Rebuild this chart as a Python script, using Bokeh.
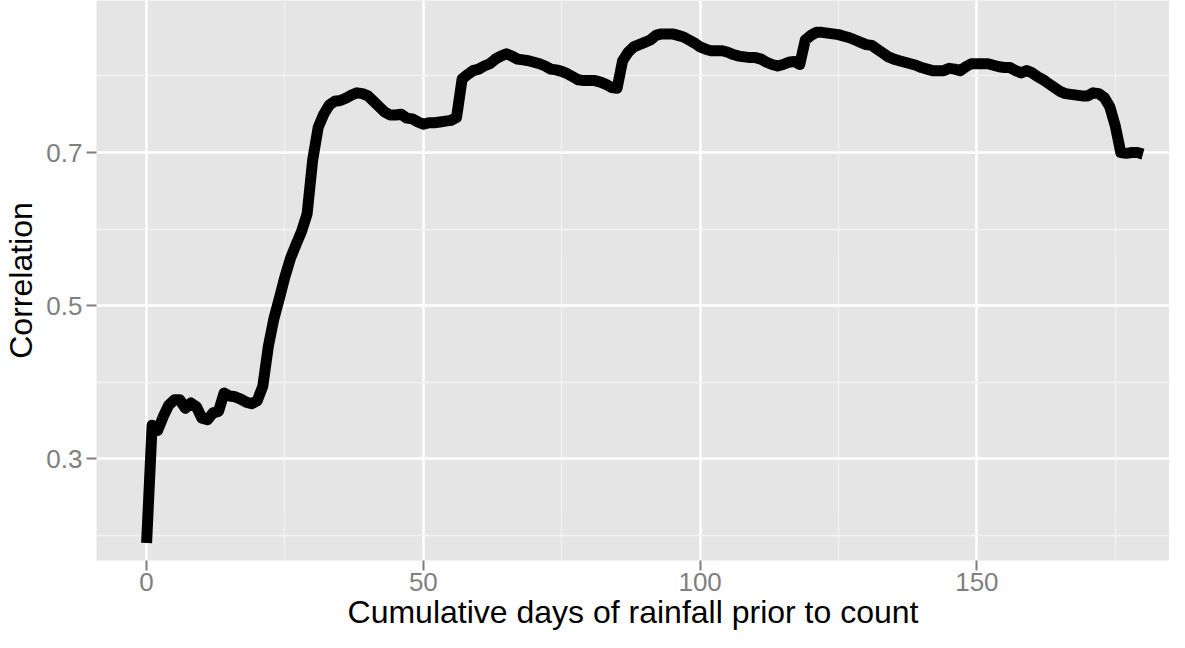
from bokeh.plotting import figure
from bokeh.models import Range1d, FixedTicker
from bokeh.embed import file_html
from bokeh.resources import INLINE

days = list(range(0, 181))
correlation = [
    0.190, 0.344, 0.337, 0.355, 0.370, 0.377, 0.377, 0.366, 0.373, 0.368,
    0.353, 0.351, 0.360, 0.362, 0.386, 0.382, 0.381, 0.378, 0.374, 0.372,
    0.376, 0.395, 0.447, 0.483, 0.510, 0.538, 0.562, 0.580, 0.597, 0.620,
    0.690, 0.733, 0.750, 0.762, 0.767, 0.768, 0.771, 0.775, 0.778, 0.777,
    0.774, 0.767, 0.760, 0.753, 0.749, 0.749, 0.750, 0.745, 0.744, 0.740,
    0.737, 0.739, 0.739, 0.740, 0.741, 0.742, 0.746, 0.796, 0.802, 0.807,
    0.809, 0.813, 0.816, 0.822, 0.826, 0.829, 0.826, 0.822, 0.821, 0.820,
    0.818, 0.816, 0.813, 0.809, 0.808, 0.806, 0.803, 0.799, 0.795, 0.794,
    0.794, 0.794, 0.792, 0.789, 0.785, 0.784, 0.820, 0.831, 0.838, 0.841,
    0.844, 0.847, 0.853, 0.855, 0.855, 0.855, 0.853, 0.851, 0.847, 0.843,
    0.838, 0.835, 0.833, 0.833, 0.833, 0.831, 0.828, 0.826, 0.825, 0.824,
    0.824, 0.822, 0.818, 0.815, 0.813, 0.815, 0.818, 0.819, 0.815, 0.847,
    0.853, 0.857, 0.857, 0.856, 0.855, 0.854, 0.852, 0.850, 0.847, 0.844,
    0.841, 0.840, 0.835, 0.830, 0.825, 0.822, 0.820, 0.818, 0.816, 0.814,
    0.811, 0.809, 0.807, 0.807, 0.807, 0.810, 0.809, 0.807, 0.812, 0.816,
    0.816, 0.816, 0.816, 0.814, 0.812, 0.811, 0.811, 0.807, 0.804, 0.807,
    0.804, 0.799, 0.795, 0.790, 0.785, 0.780, 0.777, 0.776, 0.775, 0.774,
    0.774, 0.778, 0.777, 0.772, 0.760, 0.735, 0.700, 0.699, 0.700, 0.700,
    0.698,
]

x_ticks = [0, 50, 100, 150]
x_minor = [25, 75, 125, 175]
y_ticks = [0.3, 0.5, 0.7]
y_minor = [0.2, 0.4, 0.6, 0.8]

FONT = "Liberation Sans"

p = figure(width=1169, height=632, output_backend="svg", toolbar_location=None,
           x_range=Range1d(-9.05, 184.8), y_range=Range1d(0.1672, 0.8986),
           x_axis_label="Cumulative days of rainfall prior to count",
           y_axis_label="Correlation")

p.background_fill_color = "#E5E5E5"
p.border_fill_color = "white"
p.outline_line_color = None
p.min_border_left = 90
p.min_border_right = 0
p.min_border_top = 0
p.min_border_bottom = 0

p.xaxis.ticker = FixedTicker(ticks=x_ticks, minor_ticks=x_minor)
p.yaxis.ticker = FixedTicker(ticks=y_ticks, minor_ticks=y_minor)
p.yaxis.major_label_overrides = {0.3: "0.3", 0.5: "0.5", 0.7: "0.7"}

for ax in (p.xaxis, p.yaxis):
    ax.axis_line_color = None
    ax.major_tick_line_color = "#7F7F7F"
    ax.major_tick_line_width = 2
    ax.major_tick_in = 0
    ax.major_tick_out = 10
    ax.minor_tick_line_color = None
    ax.major_label_text_font = FONT
    ax.major_label_text_font_size = "26px"
    ax.major_label_text_color = "#7F7F7F"
    ax.axis_label_text_font = FONT
    ax.axis_label_text_font_size = "32px"
    ax.axis_label_text_font_style = "normal"
    ax.axis_label_text_color = "black"

p.xaxis.major_label_standoff = 2
p.xaxis.axis_label_standoff = 0
p.yaxis.major_label_standoff = 4
p.yaxis.axis_label_standoff = 4

for g in (p.xgrid, p.ygrid):
    g.grid_line_color = "white"
    g.grid_line_width = 2.5
    g.minor_grid_line_color = "#F2F2F2"
    g.minor_grid_line_width = 1.3

p.line(days, correlation, line_color="black", line_width=11,
       line_join="round", line_cap="butt")

open("out.html", "w").write(file_html(p, INLINE))
